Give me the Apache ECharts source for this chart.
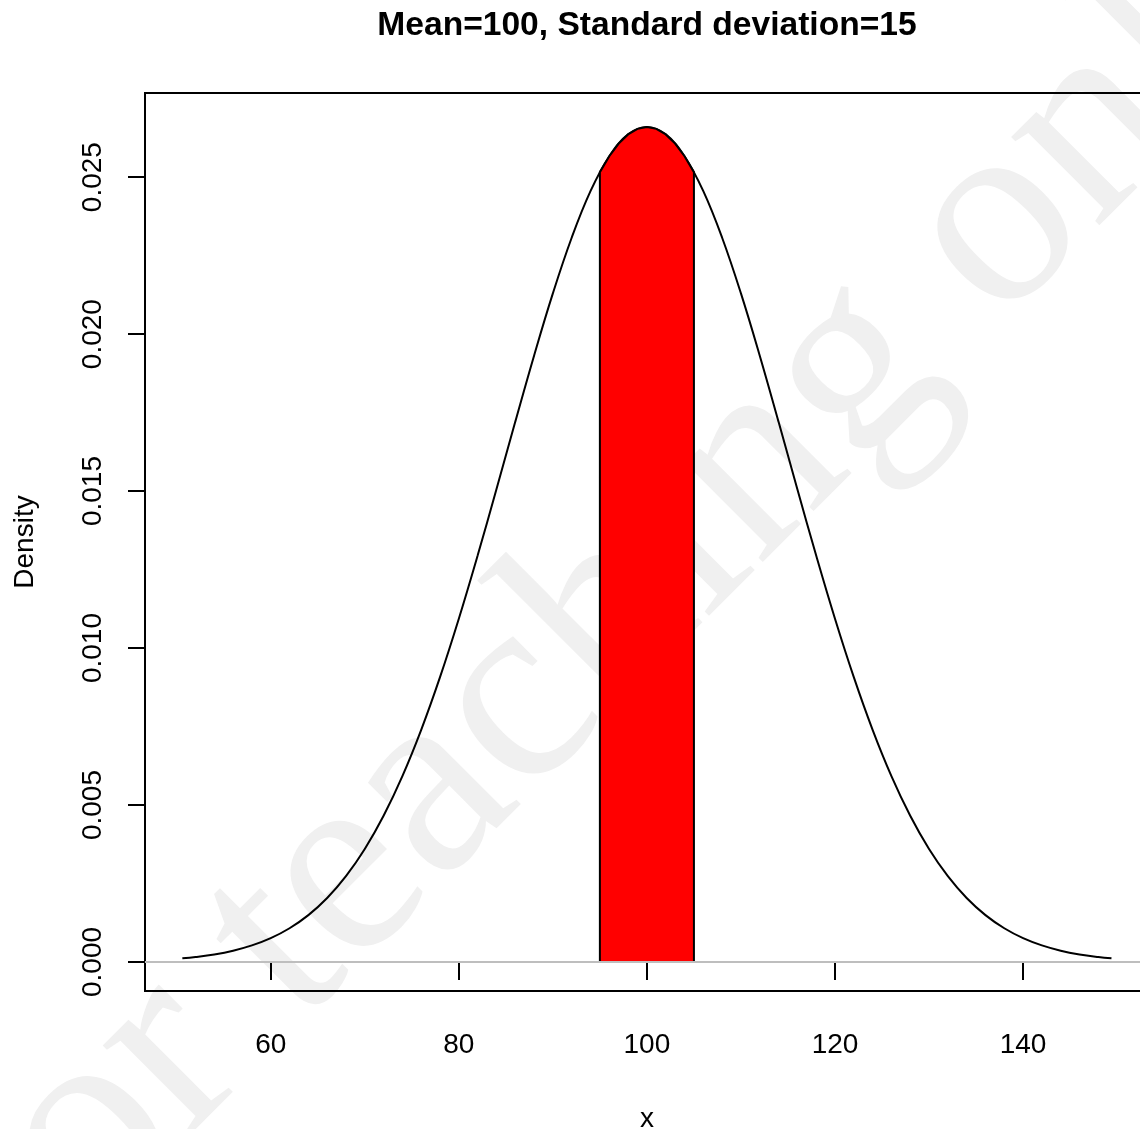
<!DOCTYPE html>
<html>
<head>
<meta charset="utf-8">
<script src="https://cdn.jsdelivr.net/npm/echarts@6/dist/echarts.min.js"></script>
<style>
  html, body { margin: 0; padding: 0; background: #fff; }
  #chart { width: 1140px; height: 1129px; }
</style>
</head>
<body>
<div id="chart"></div>
<script>
// Normal density curve, mean 100, sd 15
const curveX = [50.6, 52, 54, 56, 58, 60, 62, 64, 66, 68, 70, 72, 74, 76, 78, 80, 82, 84, 86, 88, 90, 92, 94, 96, 98,
  100, 102, 104, 106, 108, 110, 112, 114, 116, 118, 120, 122, 124, 126, 128, 130, 132, 134, 136, 138, 140, 142, 144, 146, 148, 149.4];
const curveY = [0.000117, 0.000159, 0.000241, 0.000360, 0.000528, 0.000760, 0.001075, 0.001493, 0.002038, 0.002733,
  0.003599, 0.004658, 0.005921, 0.007395, 0.009072, 0.010934, 0.012946, 0.015058, 0.017205, 0.019313,
  0.021297, 0.023070, 0.024552, 0.025667, 0.026361,
  0.026596,
  0.026361, 0.025667, 0.024552, 0.023070, 0.021297, 0.019313, 0.017205, 0.015058, 0.012946, 0.010934,
  0.009072, 0.007395, 0.005921, 0.004658, 0.003599, 0.002733, 0.002038, 0.001493, 0.001075, 0.000760,
  0.000528, 0.000360, 0.000241, 0.000159, 0.000117];

// Shaded band between 95 and 105
const shadeX = [95, 96, 97, 98, 99, 100, 101, 102, 103, 104, 105];
const shadeY = [0.025159, 0.025667, 0.026070, 0.026361, 0.026537, 0.026596, 0.026537, 0.026361, 0.026070, 0.025667, 0.025159];

// Tick labels
const xTicks = [60, 80, 100, 120, 140];
const yTicks = [0, 0.005, 0.010, 0.015, 0.020, 0.025];

const titleText = 'Mean=100, Standard deviation=15';
const watermarkText = 'For teaching only';

const FONT = '"Liberation Sans", Arial, Helvetica, sans-serif';

const chart = echarts.init(document.getElementById('chart'), null, { renderer: 'canvas' });

chart.setOption({
  backgroundColor: '#ffffff',
  animation: false,
  title: {
    text: titleText,
    left: 647,
    top: 9,
    padding: 0,
    textAlign: 'center',
    textStyle: { fontFamily: FONT, fontSize: 33.6, fontWeight: 'bold', color: '#000' }
  },
  graphic: [{
    type: 'text',
    z: -10,
    silent: true,
    x: 708,
    y: 708,
    rotation: Math.PI / 4,
    style: {
      text: watermarkText,
      fontFamily: '"Liberation Serif", "DejaVu Serif", serif',
      fontSize: 272,
      fill: '#f0f0f0',
      align: 'center',
      verticalAlign: 'bottom'
    }
  }],
  grid: {
    left: 145,
    top: 93,
    width: 1004,
    height: 898,
    outerBoundsMode: 'none',
    containLabel: false,
    show: true,
    borderColor: '#000',
    borderWidth: 2,
    backgroundColor: 'transparent'
  },
  xAxis: {
    type: 'value',
    min: 46.63,
    max: 153.39,
    name: 'x',
    nameLocation: 'middle',
    nameGap: 114,
    nameTextStyle: { fontFamily: FONT, fontSize: 28, color: '#000' },
    axisLine: { show: false },
    splitLine: { show: false },
    axisTick: { show: true, inside: false, length: 18, customValues: xTicks, lineStyle: { color: '#000', width: 2 } },
    axisLabel: {
      show: true, customValues: xTicks, margin: 40,
      fontFamily: FONT, fontSize: 28, color: '#000',
      formatter: v => String(v)
    }
  },
  yAxis: {
    type: 'value',
    min: -0.000924,
    max: 0.02768,
    name: 'Density',
    nameLocation: 'middle',
    nameRotate: 90,
    nameGap: 106,
    nameTextStyle: { fontFamily: FONT, fontSize: 28, color: '#000' },
    axisLine: { show: false },
    splitLine: { show: false },
    axisTick: { show: true, inside: false, length: 17, customValues: yTicks, lineStyle: { color: '#000', width: 2 } },
    axisLabel: {
      show: true, customValues: yTicks, margin: 38, rotate: 90,
      fontFamily: FONT, fontSize: 28, color: '#000',
      formatter: v => v.toFixed(3)
    }
  },
  series: [
    {
      // zero reference line
      type: 'line',
      data: [],
      z: 1,
      silent: true,
      markLine: {
        silent: true,
        symbol: 'none',
        label: { show: false },
        lineStyle: { color: '#bebebe', width: 2, type: 'solid' },
        data: [{ yAxis: 0 }]
      }
    },
    {
      type: 'line',
      name: 'density',
      z: 2,
      data: curveX.map((x, i) => [x, curveY[i]]),
      showSymbol: false,
      smooth: 0.4,
      lineStyle: { color: '#000', width: 2 },
      silent: true
    },
    {
      type: 'custom',
      name: 'band',
      z: 3,
      silent: true,
      data: [[shadeX[0], 0]],
      renderItem: function (params, api) {
        const pts = [api.coord([shadeX[0], 0])];
        for (let i = 0; i < shadeX.length; i++) pts.push(api.coord([shadeX[i], shadeY[i]]));
        pts.push(api.coord([shadeX[shadeX.length - 1], 0]));
        return {
          type: 'polygon',
          shape: { points: pts, smooth: 0 },
          style: { fill: '#ff0000', stroke: '#000', lineWidth: 2 }
        };
      }
    }
  ]
});
</script>
</body>
</html>
